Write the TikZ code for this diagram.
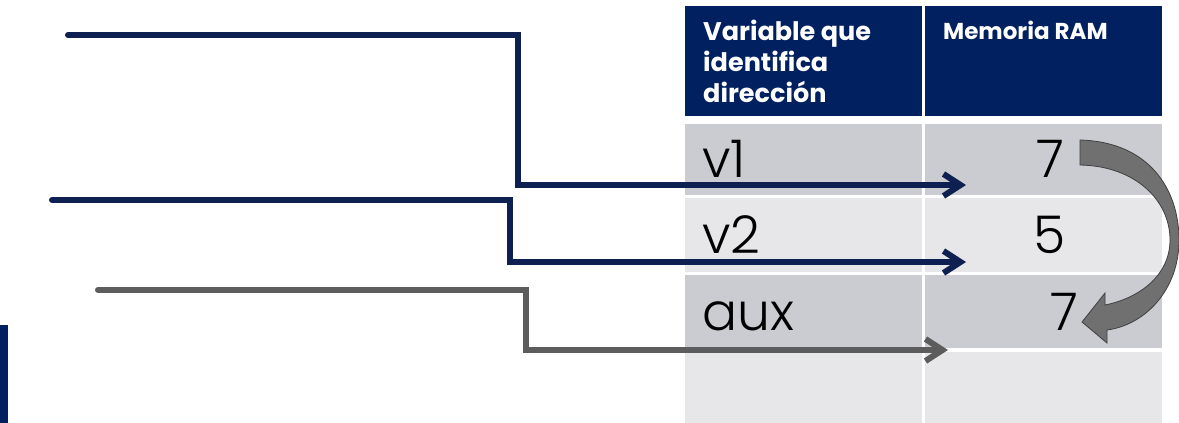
\documentclass[tikz,border=0pt]{standalone}
\usepackage{fontspec}
\setmainfont{Poppins}
\newfontfamily\thinfont{Poppins Light}
\usetikzlibrary{arrows.meta}
\definecolor{navy}{RGB}{0,32,96}
\definecolor{linknavy}{RGB}{14,32,82}
\definecolor{rowdark}{RGB}{203,204,209}
\definecolor{rowlight}{RGB}{231,231,233}
\definecolor{linegray}{RGB}{92,92,92}
\definecolor{blockgray}{RGB}{112,112,112}

\begin{document}
\begin{tikzpicture}[x=1pt, y=-1pt,
  cell/.style={anchor=north west, inner sep=0pt, minimum width=237pt, minimum height=#1},
  hdr/.style={text=white, font=\fontsize{#1}{31}\selectfont\bfseries, align=left, inner sep=0pt, anchor=north west},
  big/.style={font=\fontsize{52}{60}\selectfont\thinfont, inner sep=0pt, anchor=base west},
  num/.style={font=\fontsize{52}{60}\selectfont\thinfont, inner sep=0pt, anchor=base},
  link/.style={line width=6pt, line cap=round, -{Straight Barb[length=17pt, width=22pt]}},
]
\useasboundingbox (0,0) rectangle (1179,423);

% table
\node[cell=110pt, fill=navy] (hVar) at (685,6) {};
\node[cell=110pt, fill=navy] (hRam) at (925,6) {};
\node[cell=71pt, fill=rowdark] (rV1) at (685,124) {};
\node[cell=71pt, fill=rowdark] (mV1) at (925,124) {};
\node[cell=74pt, fill=rowlight] (rV2) at (685,198) {};
\node[cell=74pt, fill=rowlight] (mV2) at (925,198) {};
\node[cell=73pt, fill=rowdark] (rAux) at (685,275) {};
\node[cell=73pt, fill=rowdark] (mAux) at (925,275) {};
\node[cell=71pt, fill=rowlight] (rNone) at (685,352) {};
\node[cell=71pt, fill=rowlight] (mNone) at (925,352) {};

\node[hdr=25.5] (tVar) at (703,20) {Variable que\\identifica\\dirección};
\node[hdr=23] (tRam) at (943,21) {Memoria RAM};

\node[big] (vOne) at (702,177) {v1};
\node[big] (vTwo) at (702,253) {v2};
\node[big] (vAux) at (702,330) {aux};
\node[num] (nOne) at (1050,177) {7};
\node[num] (nTwo) at (1050,253) {5};
\node[num] (nAux) at (1064,330) {7};

% connectors
\coordinate (s1) at (68,35);
\coordinate (e1) at (966,185);
\coordinate (s2) at (52,200);
\coordinate (e2) at (966,262);
\coordinate (s3) at (98,290);
\coordinate (e3) at (948,350);
\draw[link, linknavy] (s1) -- ++(450,0) |- (e1);
\draw[link, linknavy] (s2) -- ++(458,0) |- (e2);
\draw[link, linegray] (s3) -- ++(428,0) |- (e3);

% copy arrow
\draw[fill=blockgray, draw=black!75, line width=0.8pt]
  (1080,140) .. controls (1150,142) and (1179,190) .. (1179,240)
  .. controls (1179,290) and (1145,325) .. (1107,330)
  -- (1107,343) -- (1082,322) -- (1105,293) -- (1105,305)
  .. controls (1140,298) and (1170,275) .. (1170,240)
  .. controls (1170,200) and (1135,166) .. (1080,165) -- cycle;

\fill[navy] (0,325) rectangle (8,423);
\end{tikzpicture}
\end{document}
